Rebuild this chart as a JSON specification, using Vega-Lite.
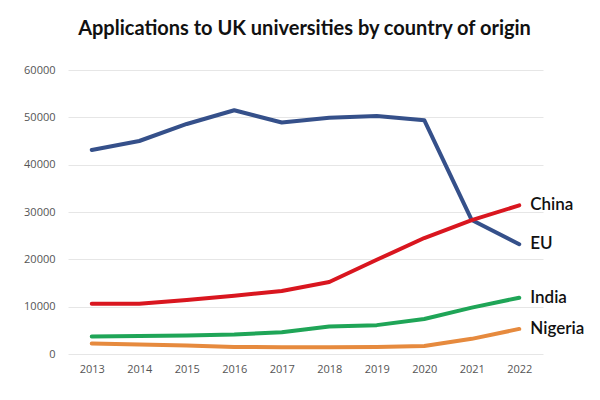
{
  "$schema": "https://vega.github.io/schema/vega-lite/v6.json",
  "autosize": "none",
  "width": 475,
  "height": 284,
  "padding": {"left": 68, "top": 70, "right": 57, "bottom": 46},
  "background": "white",
  "view": {"stroke": null},
  "title": {
    "text": "Applications to UK universities by country of origin",
    "font": "Lato",
    "fontSize": 20,
    "fontWeight": "bold",
    "color": "#111111",
    "anchor": "middle",
    "dx": -1,
    "offset": 25
  },
  "data": {
    "values": [
      {"year": "2013", "country": "EU", "value": 43100},
      {"year": "2014", "country": "EU", "value": 45000},
      {"year": "2015", "country": "EU", "value": 48600},
      {"year": "2016", "country": "EU", "value": 51500},
      {"year": "2017", "country": "EU", "value": 48900},
      {"year": "2018", "country": "EU", "value": 49900},
      {"year": "2019", "country": "EU", "value": 50300},
      {"year": "2020", "country": "EU", "value": 49400},
      {"year": "2021", "country": "EU", "value": 28300},
      {"year": "2022", "country": "EU", "value": 23200},
      {"year": "2013", "country": "China", "value": 10600},
      {"year": "2014", "country": "China", "value": 10600},
      {"year": "2015", "country": "China", "value": 11400},
      {"year": "2016", "country": "China", "value": 12300},
      {"year": "2017", "country": "China", "value": 13300},
      {"year": "2018", "country": "China", "value": 15200},
      {"year": "2019", "country": "China", "value": 19900},
      {"year": "2020", "country": "China", "value": 24500},
      {"year": "2021", "country": "China", "value": 28300},
      {"year": "2022", "country": "China", "value": 31400},
      {"year": "2013", "country": "India", "value": 3700},
      {"year": "2014", "country": "India", "value": 3800},
      {"year": "2015", "country": "India", "value": 3900},
      {"year": "2016", "country": "India", "value": 4100},
      {"year": "2017", "country": "India", "value": 4600},
      {"year": "2018", "country": "India", "value": 5800},
      {"year": "2019", "country": "India", "value": 6100},
      {"year": "2020", "country": "India", "value": 7400},
      {"year": "2021", "country": "India", "value": 9800},
      {"year": "2022", "country": "India", "value": 11900},
      {"year": "2013", "country": "Nigeria", "value": 2200},
      {"year": "2014", "country": "Nigeria", "value": 2000},
      {"year": "2015", "country": "Nigeria", "value": 1800},
      {"year": "2016", "country": "Nigeria", "value": 1500},
      {"year": "2017", "country": "Nigeria", "value": 1400},
      {"year": "2018", "country": "Nigeria", "value": 1400},
      {"year": "2019", "country": "Nigeria", "value": 1500},
      {"year": "2020", "country": "Nigeria", "value": 1700},
      {"year": "2021", "country": "Nigeria", "value": 3200},
      {"year": "2022", "country": "Nigeria", "value": 5300}
    ]
  },
  "encoding": {
    "x": {
      "field": "year",
      "type": "ordinal",
      "scale": {"type": "point", "padding": 0.5},
      "axis": {
        "title": null,
        "labelAngle": 0,
        "domain": false,
        "ticks": false,
        "grid": false,
        "labelFont": "Open Sans",
        "labelFontSize": 11,
        "labelColor": "#555555",
        "labelPadding": 9
      }
    },
    "y": {
      "field": "value",
      "type": "quantitative",
      "scale": {"domain": [0, 60000]},
      "axis": {
        "title": null,
        "values": [0, 10000, 20000, 30000, 40000, 50000, 60000],
        "format": "d",
        "domain": false,
        "ticks": false,
        "gridColor": "#e6e6e6",
        "gridWidth": 1,
        "labelFont": "Open Sans",
        "labelFontSize": 11,
        "labelColor": "#555555",
        "labelPadding": 13
      }
    },
    "color": {
      "field": "country",
      "type": "nominal",
      "scale": {
        "domain": ["EU", "China", "India", "Nigeria"],
        "range": ["#35508a", "#d9161f", "#1fa557", "#e68a3e"]
      },
      "legend": null
    }
  },
  "layer": [
    {
      "mark": {"type": "line", "strokeWidth": 4, "strokeCap": "round", "strokeJoin": "round"}
    },
    {
      "transform": [{"filter": "datum.year == '2022'"}],
      "mark": {"type": "text", "align": "left", "dx": 11, "font": "Lato", "fontSize": 17, "fontWeight": 600},
      "encoding": {
        "text": {"field": "country"},
        "color": {"value": "#111111"}
      }
    }
  ]
}
